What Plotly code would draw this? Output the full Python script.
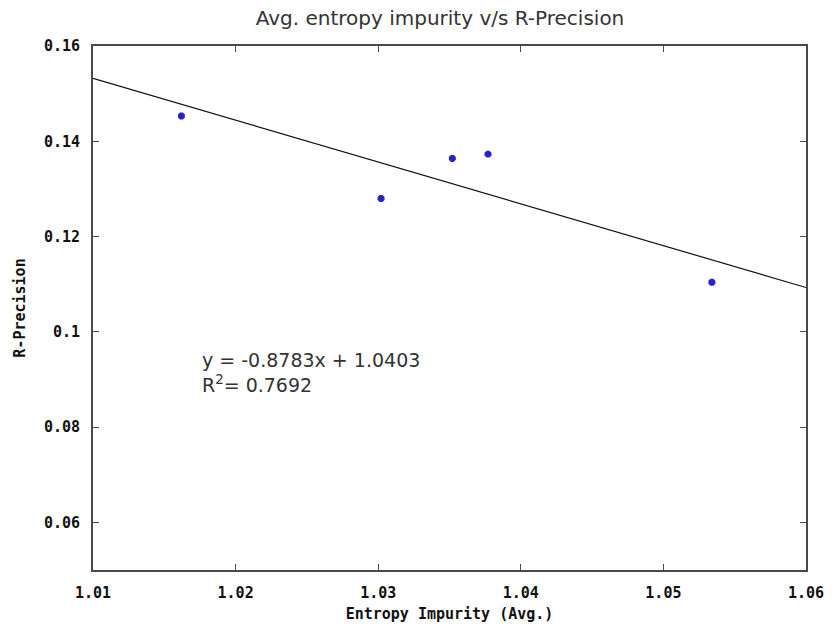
import plotly.graph_objects as go

# Data
entropy = [1.0162, 1.0302, 1.0352, 1.0377, 1.0534]
rprec = [0.1453, 0.1280, 0.1364, 0.1373, 0.1104]
slope = -0.8783
intercept = 1.0403
r2 = 0.7692
x_ticks = [1.01, 1.02, 1.03, 1.04, 1.05, 1.06]
y_ticks = [0.06, 0.08, 0.1, 0.12, 0.14, 0.16]
y_tick_text = ["0.06", "0.08", "0.1", "0.12", "0.14", "0.16"]

x_range = [1.01, 1.06]
y_range = [0.05, 0.16]
trend_x = x_range
trend_y = [slope * v + intercept for v in trend_x]

fig = go.Figure()
fig.add_trace(go.Scatter(x=trend_x, y=trend_y, mode="lines",
                         line=dict(color="#111111", width=1.2), showlegend=False))
fig.add_trace(go.Scatter(x=entropy, y=rprec, mode="markers",
                         marker=dict(symbol="octagon", size=7.5, color="#2424c4",
                                     line=dict(width=0)), showlegend=False))

tick_font = dict(family="DejaVu Sans Mono", size=15, color="#111111", weight="bold")
title_font = dict(family="DejaVu Sans Mono", size=15, color="#111111", weight="bold")

fig.update_layout(
    width=836, height=632,
    margin=dict(l=93, r=16, t=46, b=55),
    paper_bgcolor="white", plot_bgcolor="white",
    title=dict(text="Avg. entropy impurity v/s R-Precision", x=440 / 836, xanchor="center",
               y=1 - 18 / 632, yanchor="middle",
               font=dict(family="DejaVu Sans", size=20, color="#333333")),
    xaxis=dict(range=x_range, tickvals=x_ticks, ticktext=[f"{v:.2f}" for v in x_ticks],
               showgrid=False, zeroline=False, showline=True, linecolor="#4a4a4a",
               linewidth=2, mirror="ticks", ticks="inside", ticklen=6, tickcolor="#4a4a4a",
               tickfont=tick_font, ticklabelstandoff=8, ticklabeloverflow="allow",
               title=dict(text="Entropy Impurity (Avg.)", standoff=7, font=title_font)),
    yaxis=dict(range=y_range, tickvals=y_ticks, ticktext=y_tick_text,
               showgrid=False, zeroline=False, showline=True, linecolor="#4a4a4a",
               linewidth=2, mirror="ticks", ticks="inside", ticklen=6, tickcolor="#4a4a4a",
               tickfont=tick_font, ticklabelstandoff=8,
               title=dict(text="R-Precision", standoff=15, font=title_font)),
    annotations=[dict(x=1.0175, y=0.0969, xref="x", yref="y", xanchor="left", yanchor="top",
                      align="left", showarrow=False,
                      text=f"y = {slope}x + {intercept}<br>R<sup>2</sup>= {r2}",
                      font=dict(family="DejaVu Sans", size=19, color="#333333"))],
)

fig.write_html("out.html")
